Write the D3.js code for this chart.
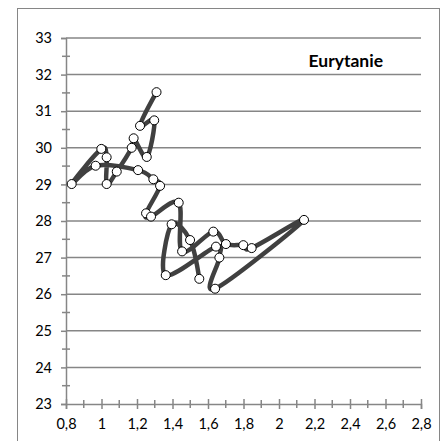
<!DOCTYPE html>
<html><head><meta charset="utf-8">
<script src="https://cdn.jsdelivr.net/npm/d3@7"></script>
<style>body{margin:0;background:#fff}svg{display:block}text{font-family:Lato,"Open Sans",sans-serif;fill:#000}</style>
</head><body>
<svg id="c" width="443" height="441"></svg>
<script>
const title = "Eurytanie";
const xValues = [1.31,1.217,1.297,1.255,1.181,1.17,1.086,1.029,1.029,0.999,0.832,0.967,1.206,1.292,1.33,1.251,1.279,1.435,1.454,1.63,1.701,1.799,1.846,2.141,1.64,1.664,1.645,1.362,1.395,1.499,1.551];
const yValues = [31.52,30.6,30.75,29.75,30.26,30.0,29.35,29.01,29.74,29.97,29.01,29.51,29.39,29.14,28.96,28.21,28.12,28.5,27.17,27.71,27.37,27.34,27.26,28.03,26.15,27.0,27.3,26.52,27.91,27.48,26.42];
const xTicks = [0.8,1,1.2,1.4,1.6,1.8,2,2.2,2.4,2.6,2.8];
const yTicks = [23,24,25,26,27,28,29,30,31,32,33];

const svg = d3.select("#c");
const x = d3.scaleLinear().domain([0.8,2.8]).range([66,421]);
const y = d3.scaleLinear().domain([23,33]).range([404,38]);
const grey = "#868686";

svg.append("rect").attr("x",17.5).attr("y",8.5).attr("width",422).attr("height",440)
  .attr("fill","none").attr("stroke",grey).attr("stroke-width",1);

svg.append("g").selectAll("line").data(yTicks.slice(1)).join("line")
  .attr("x1",66).attr("x2",421).attr("y1",d=>y(d)).attr("y2",d=>y(d))
  .attr("stroke",grey).attr("stroke-width",1.5);

// y axis
const yAxis = d3.axisLeft(y).tickValues(yTicks).tickSize(5).tickFormat(d=>d);
const gy = svg.append("g").attr("transform","translate(66,0)").call(yAxis);
gy.select(".domain").attr("stroke",grey).attr("stroke-width",1.5);
gy.selectAll(".tick line").attr("stroke",grey).attr("stroke-width",1.5);
gy.selectAll(".tick text").attr("font-size",14.5).attr("x",-14).attr("font-family","Lato");
const yMinor = d3.range(23.5,33,1);
svg.append("g").selectAll("line").data(yMinor).join("line")
  .attr("x1",62).attr("x2",70).attr("y1",d=>y(d)).attr("y2",d=>y(d))
  .attr("stroke",grey).attr("stroke-width",1.5);

// x axis
const xAxis = d3.axisBottom(x).tickValues(xTicks).tickSize(5).tickFormat(d=>String(d).replace(".",","));
const gx = svg.append("g").attr("transform","translate(0,404)").call(xAxis);
gx.select(".domain").attr("stroke",grey).attr("stroke-width",1.5);
gx.selectAll(".tick line").attr("stroke",grey).attr("stroke-width",1.5).attr("y1",-5).attr("y2",5);
gx.selectAll(".tick text").attr("font-size",14.5).attr("y",15).attr("font-family","Lato");
const xMinor = d3.range(0.9,2.8,0.2);
svg.append("g").selectAll("line").data(xMinor).join("line")
  .attr("y1",400).attr("y2",408).attr("x1",d=>x(d)).attr("x2",d=>x(d))
  .attr("stroke",grey).attr("stroke-width",1.5);

const pts = xValues.map((v,i)=>[v,yValues[i]]);
const line = d3.line().x(d=>x(d[0])).y(d=>y(d[1])).curve(d3.curveCardinal.tension(0));
svg.append("path").datum(pts).attr("d",line).attr("fill","none")
  .attr("stroke","#404040").attr("stroke-width",4.5).attr("stroke-linejoin","round");

svg.append("g").selectAll("circle").data(pts).join("circle")
  .attr("cx",d=>x(d[0])).attr("cy",d=>y(d[1])).attr("r",4.5)
  .attr("fill","#fff").attr("stroke","#000").attr("stroke-width",1);

svg.append("text").attr("x",383).attr("y",67).attr("text-anchor","end")
  .attr("font-size",17.5).attr("font-weight","bold").text(title);
</script>
</body></html>
